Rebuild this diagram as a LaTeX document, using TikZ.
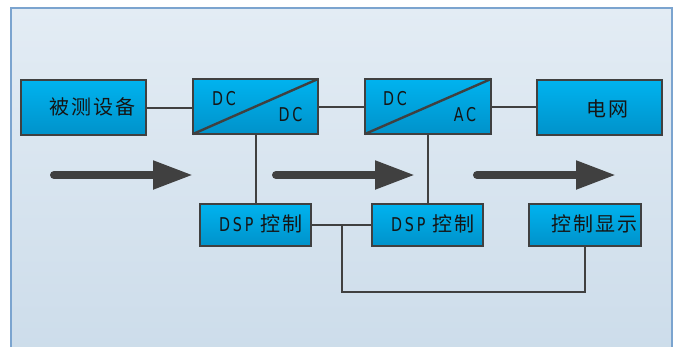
\documentclass[tikz,border=0pt]{standalone}
\usepackage{fontspec}
\usetikzlibrary{arrows.meta}
\newfontfamily\cjkf[LetterSpace=10]{Noto Sans CJK SC}
\newfontfamily\latf[FakeStretch=0.75,LetterSpace=15]{DejaVu Sans}
\definecolor{frameblue}{HTML}{7BA4CF}
\definecolor{bgtop}{HTML}{E3ECF4}
\definecolor{bgbot}{HTML}{CCDCEA}
\definecolor{boxtop}{HTML}{00B3EF}
\definecolor{boxbot}{HTML}{0092CA}
\definecolor{ink}{HTML}{404040}
\definecolor{txt}{HTML}{151515}
\begin{document}
\begin{tikzpicture}[x=1pt,y=-1pt,
  box/.style={draw=ink,line width=2.2pt,top color=boxtop,bottom color=boxbot,inner sep=0pt,outer sep=0pt},
  bigbox/.style={box,minimum width=125pt,minimum height=55pt},
  smallbox/.style={box,minimum width=111pt,minimum height=42pt},
  wire/.style={draw=ink,line width=2pt},
  flow/.style={draw=ink,line width=8pt,line cap=round,-{Triangle[length=40pt,width=27pt]}},
  cn/.style={font=\cjkf\fontsize{20}{22}\selectfont,text=txt,inner sep=0pt},
  ln/.style={font=\latf\fontsize{19}{21}\selectfont,text=txt,inner sep=0pt},
  mix/.style={font=\fontsize{20}{22}\selectfont,text=txt,inner sep=0pt}]
\clip (0,0) rectangle (681,346);
\fill[white] (0,0) rectangle (681,346);
\shade[top color=bgtop,bottom color=bgbot] (11,8) rectangle (672,360);
\draw[frameblue,line width=2.5pt] (11,8) rectangle (672,360);

% boxes
\node[bigbox] (dut) at (83.5,107.5) {};
\node[bigbox] (dcdc) at (255.5,106.5) {};
\node[bigbox,minimum width=126pt] (dcac) at (428,106.5) {};
\node[bigbox] (grid) at (599.5,107.5) {};
\node[smallbox] (dsp1) at (255.5,225) {};
\node[smallbox] (dsp2) at (427.5,225) {};
\node[smallbox,minimum width=112pt] (disp) at (585,225) {};

% diagonals
\draw[wire,line width=2.4pt] (dcdc.south west) -- (dcdc.north east);
\draw[wire,line width=2.4pt] (dcac.south west) -- (dcac.north east);

% labels
\node[cn] (tdut) at (92,107) {被测设备};
\node[ln] (t1) at (224,98.5) {DC};
\node[ln] (t2) at (290.5,114.5) {DC};
\node[ln] (t3) at (395,98.5) {DC};
\node[ln] (t4) at (465,114.5) {AC};
\node[cn] (tgrid) at (607.5,108.5) {电网};
\node[mix] (td1) at (261,224) {\latf\fontsize{19}{21}\selectfont DSP \cjkf\fontsize{20}{22}\selectfont 控制};
\node[mix] (td2) at (433,224) {\latf\fontsize{19}{21}\selectfont DSP \cjkf\fontsize{20}{22}\selectfont 控制};
\node[cn] (tdisp) at (594.5,224) {控制显示};

% connectors
\draw[wire] (dut.east) -- (dut.east -| dcdc.west);
\draw[wire] (dcdc.east) -- (dcac.west);
\draw[wire] (dcac.east) -- (dcac.east -| grid.west);
\draw[wire] (dcdc.south) -- (dsp1.north);
\draw[wire] (dcac.south) -- (dcac.south |- dsp2.north);
\draw[wire] (dsp1.east) -- (dsp2.west);
\coordinate (j) at (342,225);
\coordinate (jb) at (342,292);
\draw[wire] (j) -- (jb) -| (disp.south);

% flow arrows
\coordinate (a1s) at (54,175);
\coordinate (a1e) at (193,175);
\coordinate (a2s) at (276,175);
\coordinate (a2e) at (415,175);
\coordinate (a3s) at (477,175);
\coordinate (a3e) at (616,175);
\draw[flow] (a1s) -- (a1e);
\draw[flow] (a2s) -- (a2e);
\draw[flow] (a3s) -- (a3e);
\end{tikzpicture}
\end{document}
